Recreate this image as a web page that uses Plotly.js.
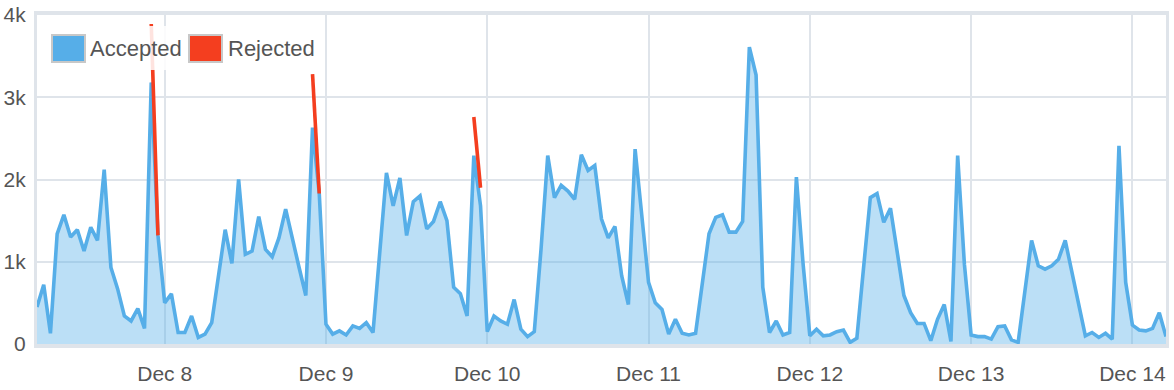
<!DOCTYPE html>
<html>
<head>
<meta charset="utf-8">
<script src="https://cdn.plot.ly/plotly-3.0.1.min.js"></script>
<style>html,body{margin:0;padding:0;background:#fff;}#chart{width:1174px;height:390px;}</style>
</head>
<body>
<div id="chart"></div>
<script>
// Hourly series, first point Dec 7 05:00, last Dec 14 05:00
const startHour = '2016-12-07T05:00:00';
const accepted = [
  450, 720, 130, 1340, 1570, 1300, 1390, 1130, 1420, 1260,
  2120, 930, 670, 340, 280, 430, 190, 3180, 1320, 500,
  610, 140, 140, 340, 80, 120, 260, 810, 1390, 980,
  2000, 1090, 1130, 1550, 1150, 1060, 1290, 1640, 1260, 930,
  590, 2630, 1830, 240, 120, 160, 110, 220, 190, 260,
  140, 1120, 2080, 1680, 2020, 1320, 1730, 1800, 1400, 1490,
  1730, 1500, 690, 610, 340, 2290, 1680, 150, 340, 280,
  240, 540, 180, 90, 150, 1150, 2290, 1780, 1930, 1860,
  1760, 2300, 2110, 2170, 1520, 1290, 1430, 830, 480, 2370,
  1550, 750, 500, 420, 120, 300, 130, 110, 130, 730,
  1340, 1540, 1570, 1360, 1360, 1490, 3610, 3270, 690, 140,
  280, 110, 140, 2030, 970, 100, 180, 100, 110, 150,
  170, 20, 70, 930, 1780, 1830, 1480, 1650, 1130, 590,
  380, 250, 250, 40, 300, 480, 30, 2290, 970, 110,
  90, 90, 60, 210, 220, 50, 20, 640, 1260, 950,
  910, 950, 1030, 1260, 870, 480, 100, 140, 80, 130,
  60, 2410, 750, 230, 170, 160, 190, 380, 90
];
// Rejected: short segments (null breaks the line)
const rejectedTimes = ['2016-12-07 22:00', '2016-12-07 23:00', null,
                       '2016-12-08 22:00', '2016-12-08 23:00', null,
                       '2016-12-09 22:00', '2016-12-09 23:00'];
const rejectedValues = [3890, 1320, null, 3280, 1830, null, 2760, 1900];
const yTickVals = [0, 1000, 2000, 3000, 4000];
const yTickText = ['0', '1k', '2k', '3k', '4k'];
const seriesNames = ['Accepted', 'Rejected'];

function pad(n){ return (n < 10 ? '0' : '') + n; }
const t0 = new Date(startHour + 'Z').getTime();
const times = accepted.map((_, i) => {
  const d = new Date(t0 + i * 3600000);
  return d.getUTCFullYear() + '-' + pad(d.getUTCMonth() + 1) + '-' + pad(d.getUTCDate()) +
    ' ' + pad(d.getUTCHours()) + ':00';
});

const blue = '#56aee8';
const red = '#f43e1f';
const gridC = '#dfe4ea';
const fontFam = 'Liberation Sans, Arial, Helvetica, sans-serif';

const traces = [
  {
    x: times, y: accepted, type: 'scatter', mode: 'lines', name: seriesNames[0],
    line: {color: blue, width: 3.6}, fill: 'tozeroy', fillcolor: 'rgba(86,174,232,0.4)',
    showlegend: false, hoverinfo: 'skip'
  },
  {
    x: rejectedTimes, y: rejectedValues, type: 'scatter', mode: 'lines', name: seriesNames[1],
    line: {color: red, width: 3.6}, connectgaps: false, showlegend: false, hoverinfo: 'skip'
  }
];

// layout geometry
const W = 1174, H = 390;
const M = {l: 37, r: 8, t: 15, b: 46};
const pw = W - M.l - M.r, ph = H - M.t - M.b;
const px = v => (v - M.l) / pw;
const py = v => (H - M.b - v) / ph;

const shapes = [
  {type: 'rect', xref: 'paper', yref: 'paper', x0: px(46), x1: px(322), y0: py(70), y1: py(26),
   fillcolor: 'rgba(255,255,255,0.86)', line: {width: 0}, layer: 'above'},
  {type: 'rect', xref: 'paper', yref: 'paper', x0: px(52), x1: px(85), y0: py(62), y1: py(35),
   fillcolor: blue, line: {color: '#c8c8c8', width: 2}, layer: 'above'},
  {type: 'rect', xref: 'paper', yref: 'paper', x0: px(189), x1: px(222), y0: py(62), y1: py(35),
   fillcolor: red, line: {color: '#c8c8c8', width: 2}, layer: 'above'}
];
const annotations = [
  {xref: 'paper', yref: 'paper', x: px(88), y: py(48.5), xanchor: 'left', yanchor: 'middle',
   text: seriesNames[0], showarrow: false, font: {family: fontFam, size: 22, color: '#555'}},
  {xref: 'paper', yref: 'paper', x: px(226), y: py(48.5), xanchor: 'left', yanchor: 'middle',
   text: seriesNames[1], showarrow: false, font: {family: fontFam, size: 22, color: '#555'}}
];

const layout = {
  width: W, height: H,
  margin: M,
  paper_bgcolor: '#fff', plot_bgcolor: '#fff',
  font: {family: fontFam, size: 21, color: '#555'},
  showlegend: false,
  xaxis: {
    type: 'date', range: [times[0], times[times.length - 1]],
    tick0: '2016-12-08', dtick: 86400000, tickformat: '%b %-d',
    showgrid: true, gridcolor: gridC, gridwidth: 2,
    showline: true, linecolor: gridC, linewidth: 4, mirror: true,
    ticks: '', zeroline: false, ticklabelstandoff: 8,
    tickfont: {family: fontFam, size: 21, color: '#555'}
  },
  yaxis: {
    range: [0, 4000], tickvals: yTickVals, ticktext: yTickText,
    showgrid: true, gridcolor: gridC, gridwidth: 2,
    showline: true, linecolor: gridC, linewidth: 3, mirror: true,
    ticks: '', zeroline: false, ticklabelstandoff: 4,
    tickfont: {family: fontFam, size: 21, color: '#555'}
  },
  shapes: shapes,
  annotations: annotations
};

Plotly.newPlot('chart', traces, layout, {staticPlot: true, displayModeBar: false});
</script>
</body>
</html>
